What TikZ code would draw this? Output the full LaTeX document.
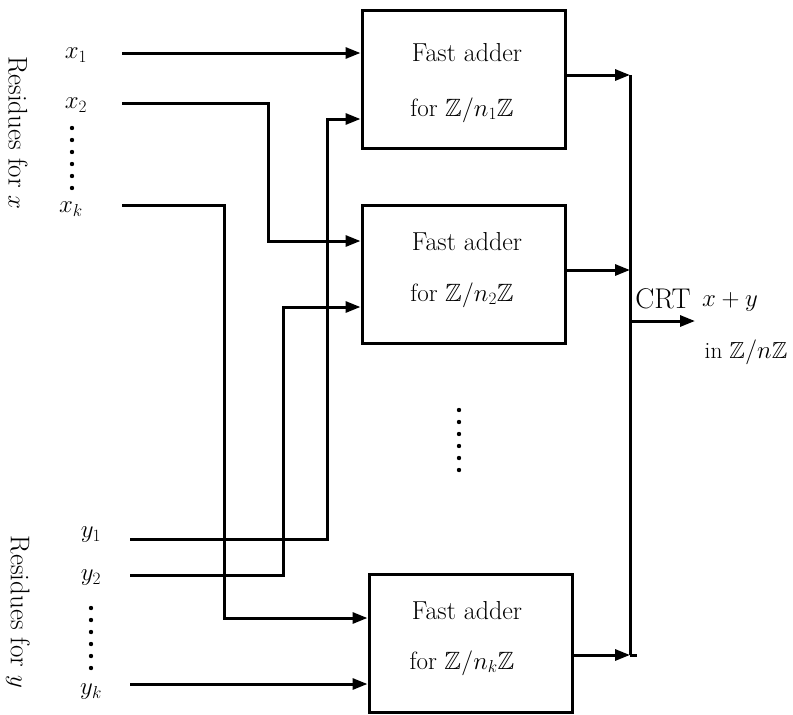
\documentclass[tikz,border=0pt]{standalone}
\usepackage{amssymb}
\usetikzlibrary{arrows.meta}
\begin{document}
\begin{tikzpicture}[x=1pt,y=-1pt, line width=3pt,
  box/.style={draw, line width=3pt, minimum width=203pt, minimum height=138pt, inner sep=0pt},
  lbl/.style={font=\fontsize{23.3}{28}\selectfont, inner sep=0pt},
  big/.style={font=\fontsize{26}{30}\selectfont, inner sep=0pt},
  arr/.style={-{Triangle[length=15pt,width=11pt]}}]
\useasboundingbox (0,0) rectangle (793,715);

% boxes
\node[box] (b1) at (463.5,79) {};
\node[box] (b2) at (463.5,274) {};
\node[box] (b3) at (470.5,643.5) {};

\node[big] (t1a) at (467,53) {Fast adder};
\node[big, font=\fontsize{25}{30}\selectfont] (t1b) at (462,110) {for $\mathbb{Z}/n_1\mathbb{Z}$};
\node[big] (t2a) at (467,242) {Fast adder};
\node[big, font=\fontsize{25}{30}\selectfont] (t2b) at (462,295) {for $\mathbb{Z}/n_2\mathbb{Z}$};
\node[big] (t3a) at (467,611) {Fast adder};
\node[big, font=\fontsize{25}{30}\selectfont] (t3b) at (462,663) {for $\mathbb{Z}/n_k\mathbb{Z}$};

% input labels
\node[lbl] (lx1) at (76,55) {$x_1$};
\node[lbl] (lx2) at (76,105) {$x_2$};
\node[lbl] (lxk) at (71,209) {$x_k$};
\node[lbl] (ly1) at (91,535) {$y_1$};
\node[lbl] (ly2) at (91,578) {$y_2$};
\node[lbl] (lyk) at (91,692) {$y_k$};
\node[big, font=\fontsize{27}{30}\selectfont, rotate=-90] (rx) at (18,133) {Residues for $x$};
\node[big, font=\fontsize{27}{30}\selectfont, rotate=-90] (ry) at (18,612) {Residues for $y$};

\foreach \yy in {128,140,152,164,176,188} \fill (72,\yy) circle (2.2pt);
\foreach \yy in {608,620,632,644,656,668} \fill (91,\yy) circle (2.2pt);
\foreach \yy in {410,422,434,446,458,470} \fill (459,\yy) circle (2.2pt);

% input start points and corners
\coordinate (x1s) at (122,53);
\coordinate (x2s) at (122,103);
\coordinate (x2c) at (268,103);
\coordinate (x2d) at (268,241);
\coordinate (xks) at (122,205);
\coordinate (xkc) at (224,205);
\coordinate (xkd) at (224,618);
\coordinate (y1s) at (130,539);
\coordinate (y1c) at (327,539);
\coordinate (y1d) at (327,119);
\coordinate (y2s) at (130,575);
\coordinate (y2c) at (283,575);
\coordinate (y2d) at (283,307);
\coordinate (yks) at (130,684);

\draw[arr] (x1s) -- (x1s -| b1.west);
\draw[arr] (x2s) -- (x2c) -- (x2d) -- (x2d -| b2.west);
\draw[arr] (xks) -- (xkc) -- (xkd) -- (xkd -| b3.west);
\draw[arr] (y1s) -- (y1c) -- (y1d) -- (y1d -| b1.west);
\draw[arr] (y2s) -- (y2c) -- (y2d) -- (y2d -| b2.west);
\draw[arr] (yks) -- (yks -| b3.west);

% output bus
\coordinate (bt) at (630,75);
\coordinate (bm) at (630,270);
\coordinate (bb) at (630,655);
\coordinate (bo) at (630,321);
\coordinate (out) at (695,321);
\draw (bt) -- (bb);
\draw[arr] (bt -| b1.east) -- (bt);
\draw[arr] (bm -| b2.east) -- (bm);
\draw[arr] (bb -| b3.east) -- (bb);
\draw (bb) -- ++(7,0);
\draw[arr] (bo) -- (out);

\node[big, font=\fontsize{28.5}{30}\selectfont] (crt) at (663,299) {CRT};
\node[lbl] (sum) at (730,302) {$x+y$};
\node[lbl] (inz) at (746,352) {in $\mathbb{Z}/n\mathbb{Z}$};
\end{tikzpicture}
\end{document}
